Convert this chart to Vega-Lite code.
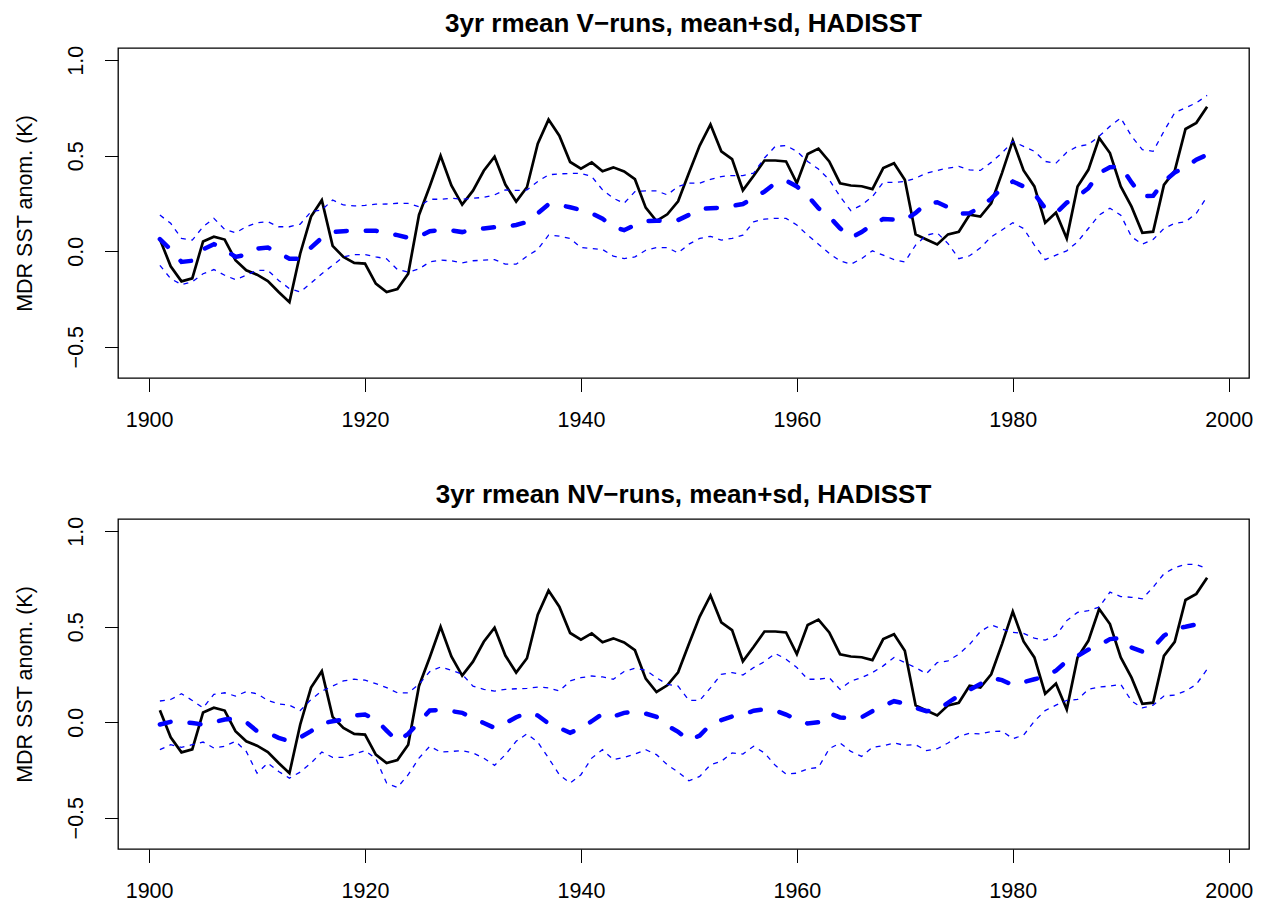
{
  "$schema": "https://vega.github.io/schema/vega-lite/v6.json",
  "background": "white",
  "padding": {"left": 13, "top": 10, "right": 5, "bottom": 0},
  "spacing": 49,
  "config": {
    "font": "Liberation Sans",
    "view": {"stroke": "black", "strokeWidth": 1.3},
    "axis": {
      "domain": false, "grid": false, "tickColor": "black", "tickWidth": 1, "tickSize": 13.5,
      "labelFont": "Liberation Sans", "labelFontSize": 21.5, "labelColor": "black",
      "titleFont": "Liberation Sans", "titleFontSize": 21.5, "titleFontWeight": "normal", "titleColor": "black"
    },
    "title": {"font": "Liberation Sans", "fontSize": 26, "fontWeight": "bold", "color": "black", "baseline": "alphabetic", "offset": 8, "anchor": "middle"}
  },
  "datasets": {
    "d": [
      {"year":1901,"obs":0.063,"vm":0.063,"vu":0.189,"vl":-0.074,"nm":-0.012,"nu":0.111,"nl":-0.144},
      {"year":1902,"obs":-0.079,"vm":0.009,"vu":0.146,"vl":-0.144,"nm":0.002,"nu":0.119,"nl":-0.118},
      {"year":1903,"obs":-0.158,"vm":-0.056,"vu":0.067,"vl":-0.175,"nm":0.0,"nu":0.149,"nl":-0.132},
      {"year":1904,"obs":-0.142,"vm":-0.05,"vu":0.058,"vl":-0.161,"nm":-0.004,"nu":0.114,"nl":-0.118},
      {"year":1905,"obs":0.051,"vm":0.01,"vu":0.128,"vl":-0.118,"nm":-0.012,"nu":0.075,"nl":-0.104},
      {"year":1906,"obs":0.076,"vm":0.037,"vu":0.172,"vl":-0.096,"nm":0.0,"nu":0.146,"nl":-0.135},
      {"year":1907,"obs":0.061,"vm":0.009,"vu":0.114,"vl":-0.126,"nm":0.014,"nu":0.154,"nl":-0.126},
      {"year":1908,"obs":-0.047,"vm":-0.03,"vu":0.096,"vl":-0.149,"nm":0.019,"nu":0.137,"nl":-0.1},
      {"year":1909,"obs":-0.1,"vm":-0.018,"vu":0.128,"vl":-0.126,"nm":0.0,"nu":0.16,"nl":-0.153},
      {"year":1910,"obs":-0.123,"vm":0.014,"vu":0.149,"vl":-0.1,"nm":-0.047,"nu":0.149,"nl":-0.267},
      {"year":1911,"obs":-0.156,"vm":0.019,"vu":0.154,"vl":-0.1,"nm":-0.056,"nu":0.114,"nl":-0.214},
      {"year":1912,"obs":-0.214,"vm":-0.009,"vu":0.128,"vl":-0.153,"nm":-0.082,"nu":0.096,"nl":-0.258},
      {"year":1913,"obs":-0.267,"vm":-0.039,"vu":0.128,"vl":-0.196,"nm":-0.1,"nu":0.089,"nl":-0.293},
      {"year":1914,"obs":-0.012,"vm":-0.04,"vu":0.142,"vl":-0.214,"nm":-0.08,"nu":0.061,"nl":-0.261},
      {"year":1915,"obs":0.181,"vm":0.019,"vu":0.207,"vl":-0.167,"nm":-0.047,"nu":0.119,"nl":-0.214},
      {"year":1916,"obs":0.267,"vm":0.07,"vu":0.216,"vl":-0.118,"nm":-0.007,"nu":0.163,"nl":-0.156},
      {"year":1917,"obs":0.028,"vm":0.1,"vu":0.268,"vl":-0.074,"nm":0.005,"nu":0.189,"nl":-0.184},
      {"year":1918,"obs":-0.03,"vm":0.105,"vu":0.242,"vl":-0.03,"nm":0.014,"nu":0.216,"nl":-0.184},
      {"year":1919,"obs":-0.061,"vm":0.107,"vu":0.237,"vl":-0.018,"nm":0.035,"nu":0.225,"nl":-0.167},
      {"year":1920,"obs":-0.065,"vm":0.107,"vu":0.24,"vl":-0.018,"nm":0.04,"nu":0.22,"nl":-0.149},
      {"year":1921,"obs":-0.17,"vm":0.107,"vu":0.246,"vl":-0.03,"nm":0.014,"nu":0.202,"nl":-0.19},
      {"year":1922,"obs":-0.214,"vm":0.096,"vu":0.247,"vl":-0.04,"nm":-0.044,"nu":0.181,"nl":-0.319},
      {"year":1923,"obs":-0.198,"vm":0.084,"vu":0.251,"vl":-0.096,"nm":-0.1,"nu":0.154,"nl":-0.342},
      {"year":1924,"obs":-0.118,"vm":0.07,"vu":0.25,"vl":-0.109,"nm":-0.061,"nu":0.154,"nl":-0.275},
      {"year":1925,"obs":0.19,"vm":0.076,"vu":0.233,"vl":-0.093,"nm":0.0,"nu":0.198,"nl":-0.188},
      {"year":1926,"obs":0.34,"vm":0.105,"vu":0.272,"vl":-0.056,"nm":0.061,"nu":0.265,"nl":-0.126},
      {"year":1927,"obs":0.5,"vm":0.11,"vu":0.272,"vl":-0.047,"nm":0.065,"nu":0.289,"nl":-0.156},
      {"year":1928,"obs":0.344,"vm":0.109,"vu":0.277,"vl":-0.05,"nm":0.058,"nu":0.272,"nl":-0.153},
      {"year":1929,"obs":0.244,"vm":0.1,"vu":0.272,"vl":-0.061,"nm":0.049,"nu":0.251,"nl":-0.149},
      {"year":1930,"obs":0.317,"vm":0.114,"vu":0.277,"vl":-0.05,"nm":0.02,"nu":0.189,"nl":-0.161},
      {"year":1931,"obs":0.421,"vm":0.119,"vu":0.282,"vl":-0.047,"nm":-0.004,"nu":0.172,"nl":-0.188},
      {"year":1932,"obs":0.495,"vm":0.126,"vu":0.295,"vl":-0.044,"nm":-0.03,"nu":0.163,"nl":-0.226},
      {"year":1933,"obs":0.349,"vm":0.13,"vu":0.321,"vl":-0.068,"nm":-0.005,"nu":0.172,"nl":-0.17},
      {"year":1934,"obs":0.26,"vm":0.137,"vu":0.318,"vl":-0.068,"nm":0.026,"nu":0.175,"nl":-0.1},
      {"year":1935,"obs":0.335,"vm":0.153,"vu":0.321,"vl":-0.026,"nm":0.049,"nu":0.177,"nl":-0.061},
      {"year":1936,"obs":0.563,"vm":0.198,"vu":0.365,"vl":0.009,"nm":0.035,"nu":0.184,"nl":-0.104},
      {"year":1937,"obs":0.689,"vm":0.246,"vu":0.4,"vl":0.084,"nm":-0.007,"nu":0.18,"nl":-0.188},
      {"year":1938,"obs":0.605,"vm":0.242,"vu":0.405,"vl":0.079,"nm":-0.03,"nu":0.163,"nl":-0.275},
      {"year":1939,"obs":0.467,"vm":0.23,"vu":0.407,"vl":0.067,"nm":-0.056,"nu":0.216,"nl":-0.319},
      {"year":1940,"obs":0.432,"vm":0.216,"vu":0.407,"vl":0.019,"nm":-0.03,"nu":0.233,"nl":-0.275},
      {"year":1941,"obs":0.465,"vm":0.198,"vu":0.391,"vl":0.014,"nm":0.005,"nu":0.242,"nl":-0.188},
      {"year":1942,"obs":0.419,"vm":0.17,"vu":0.321,"vl":0.009,"nm":0.044,"nu":0.237,"nl":-0.144},
      {"year":1943,"obs":0.439,"vm":0.128,"vu":0.277,"vl":-0.026,"nm":0.03,"nu":0.225,"nl":-0.196},
      {"year":1944,"obs":0.418,"vm":0.11,"vu":0.251,"vl":-0.039,"nm":0.049,"nu":0.265,"nl":-0.184},
      {"year":1945,"obs":0.377,"vm":0.137,"vu":0.312,"vl":-0.03,"nm":0.056,"nu":0.282,"nl":-0.167},
      {"year":1946,"obs":0.228,"vm":0.158,"vu":0.316,"vl":0.005,"nm":0.045,"nu":0.272,"nl":-0.144},
      {"year":1947,"obs":0.158,"vm":0.16,"vu":0.316,"vl":0.019,"nm":0.028,"nu":0.233,"nl":-0.17},
      {"year":1948,"obs":0.193,"vm":0.158,"vu":0.295,"vl":0.019,"nm":-0.018,"nu":0.198,"nl":-0.223},
      {"year":1949,"obs":0.261,"vm":0.163,"vu":0.339,"vl":-0.009,"nm":-0.05,"nu":0.189,"nl":-0.261},
      {"year":1950,"obs":0.409,"vm":0.19,"vu":0.356,"vl":0.037,"nm":-0.096,"nu":0.114,"nl":-0.307},
      {"year":1951,"obs":0.553,"vm":0.221,"vu":0.356,"vl":0.067,"nm":-0.07,"nu":0.114,"nl":-0.284},
      {"year":1952,"obs":0.664,"vm":0.225,"vu":0.376,"vl":0.078,"nm":-0.012,"nu":0.18,"nl":-0.223},
      {"year":1953,"obs":0.523,"vm":0.228,"vu":0.391,"vl":0.058,"nm":0.011,"nu":0.251,"nl":-0.205},
      {"year":1954,"obs":0.482,"vm":0.237,"vu":0.396,"vl":0.067,"nm":0.03,"nu":0.26,"nl":-0.161},
      {"year":1955,"obs":0.319,"vm":0.247,"vu":0.396,"vl":0.084,"nm":0.04,"nu":0.247,"nl":-0.167},
      {"year":1956,"obs":0.395,"vm":0.28,"vu":0.409,"vl":0.154,"nm":0.06,"nu":0.286,"nl":-0.126},
      {"year":1957,"obs":0.475,"vm":0.312,"vu":0.488,"vl":0.168,"nm":0.068,"nu":0.317,"nl":-0.161},
      {"year":1958,"obs":0.475,"vm":0.356,"vu":0.549,"vl":0.172,"nm":0.061,"nu":0.36,"nl":-0.226},
      {"year":1959,"obs":0.47,"vm":0.37,"vu":0.553,"vl":0.172,"nm":0.04,"nu":0.33,"nl":-0.272},
      {"year":1960,"obs":0.356,"vm":0.339,"vu":0.523,"vl":0.137,"nm":0.014,"nu":0.286,"nl":-0.267},
      {"year":1961,"obs":0.509,"vm":0.291,"vu":0.47,"vl":0.084,"nm":-0.007,"nu":0.225,"nl":-0.244},
      {"year":1962,"obs":0.537,"vm":0.225,"vu":0.43,"vl":0.037,"nm":0.0,"nu":0.225,"nl":-0.237},
      {"year":1963,"obs":0.47,"vm":0.181,"vu":0.374,"vl":-0.012,"nm":0.047,"nu":0.233,"nl":-0.139},
      {"year":1964,"obs":0.356,"vm":0.12,"vu":0.286,"vl":-0.051,"nm":0.025,"nu":0.172,"nl":-0.109},
      {"year":1965,"obs":0.344,"vm":0.07,"vu":0.212,"vl":-0.068,"nm":0.02,"nu":0.216,"nl":-0.153},
      {"year":1966,"obs":0.34,"vm":0.1,"vu":0.242,"vl":-0.039,"nm":0.026,"nu":0.233,"nl":-0.179},
      {"year":1967,"obs":0.325,"vm":0.14,"vu":0.286,"vl":0.002,"nm":0.058,"nu":0.26,"nl":-0.132},
      {"year":1968,"obs":0.435,"vm":0.168,"vu":0.36,"vl":-0.021,"nm":0.085,"nu":0.295,"nl":-0.123},
      {"year":1969,"obs":0.461,"vm":0.165,"vu":0.36,"vl":-0.044,"nm":0.11,"nu":0.339,"nl":-0.109},
      {"year":1970,"obs":0.374,"vm":0.163,"vu":0.365,"vl":-0.056,"nm":0.098,"nu":0.312,"nl":-0.121},
      {"year":1971,"obs":0.088,"vm":0.2,"vu":0.382,"vl":0.032,"nm":0.075,"nu":0.286,"nl":-0.118},
      {"year":1972,"obs":0.061,"vm":0.251,"vu":0.409,"vl":0.084,"nm":0.058,"nu":0.254,"nl":-0.149},
      {"year":1973,"obs":0.035,"vm":0.256,"vu":0.423,"vl":0.096,"nm":0.06,"nu":0.312,"nl":-0.139},
      {"year":1974,"obs":0.088,"vm":0.23,"vu":0.435,"vl":0.04,"nm":0.102,"nu":0.321,"nl":-0.109},
      {"year":1975,"obs":0.102,"vm":0.197,"vu":0.444,"vl":-0.039,"nm":0.14,"nu":0.356,"nl":-0.074},
      {"year":1976,"obs":0.191,"vm":0.199,"vu":0.426,"vl":-0.024,"nm":0.17,"nu":0.407,"nl":-0.058},
      {"year":1977,"obs":0.181,"vm":0.23,"vu":0.423,"vl":0.018,"nm":0.2,"nu":0.475,"nl":-0.061},
      {"year":1978,"obs":0.251,"vm":0.275,"vu":0.465,"vl":0.075,"nm":0.233,"nu":0.509,"nl":-0.049},
      {"year":1979,"obs":0.409,"vm":0.33,"vu":0.514,"vl":0.111,"nm":0.22,"nu":0.488,"nl":-0.047},
      {"year":1980,"obs":0.579,"vm":0.365,"vu":0.575,"vl":0.149,"nm":0.195,"nu":0.47,"nl":-0.086},
      {"year":1981,"obs":0.423,"vm":0.339,"vu":0.549,"vl":0.119,"nm":0.21,"nu":0.465,"nl":-0.068},
      {"year":1982,"obs":0.339,"vm":0.3,"vu":0.523,"vl":0.032,"nm":0.225,"nu":0.44,"nl":0.005},
      {"year":1983,"obs":0.149,"vm":0.225,"vu":0.47,"vl":-0.044,"nm":0.239,"nu":0.43,"nl":0.061},
      {"year":1984,"obs":0.202,"vm":0.2,"vu":0.461,"vl":-0.021,"nm":0.27,"nu":0.453,"nl":0.089},
      {"year":1985,"obs":0.067,"vm":0.254,"vu":0.518,"vl":0.002,"nm":0.32,"nu":0.532,"nl":0.114},
      {"year":1986,"obs":0.339,"vm":0.286,"vu":0.549,"vl":0.049,"nm":0.347,"nu":0.575,"nl":0.119},
      {"year":1987,"obs":0.426,"vm":0.33,"vu":0.558,"vl":0.119,"nm":0.38,"nu":0.584,"nl":0.172},
      {"year":1988,"obs":0.593,"vm":0.409,"vu":0.602,"vl":0.189,"nm":0.402,"nu":0.602,"nl":0.184},
      {"year":1989,"obs":0.514,"vm":0.44,"vu":0.654,"vl":0.225,"nm":0.435,"nu":0.681,"nl":0.189},
      {"year":1990,"obs":0.339,"vm":0.444,"vu":0.698,"vl":0.189,"nm":0.44,"nu":0.658,"nl":0.198},
      {"year":1991,"obs":0.233,"vm":0.36,"vu":0.602,"vl":0.075,"nm":0.391,"nu":0.654,"nl":0.111},
      {"year":1992,"obs":0.096,"vm":0.287,"vu":0.532,"vl":0.037,"nm":0.37,"nu":0.646,"nl":0.075},
      {"year":1993,"obs":0.102,"vm":0.29,"vu":0.523,"vl":0.061,"nm":0.391,"nu":0.707,"nl":0.089},
      {"year":1994,"obs":0.347,"vm":0.365,"vu":0.628,"vl":0.119,"nm":0.453,"nu":0.777,"nl":0.137},
      {"year":1995,"obs":0.421,"vm":0.412,"vu":0.725,"vl":0.146,"nm":0.49,"nu":0.809,"nl":0.142},
      {"year":1996,"obs":0.64,"vm":0.44,"vu":0.751,"vl":0.154,"nm":0.5,"nu":0.826,"nl":0.163},
      {"year":1997,"obs":0.672,"vm":0.479,"vu":0.777,"vl":0.198,"nm":0.512,"nu":0.826,"nl":0.198},
      {"year":1998,"obs":0.756,"vm":0.505,"vu":0.816,"vl":0.286,"nm":0.515,"nu":0.804,"nl":0.277}
    ]
  },
  "vconcat": [
    {
      "title": "3yr rmean V−runs, mean+sd, HADISST",
      "width": 1131, "height": 330,
      "data": {"name": "d"},
      "encoding": {
        "x": {"field": "year", "type": "quantitative", "scale": {"domain": [1897.12, 2001.88], "nice": false, "zero": false},
              "axis": {"values": [1900, 1920, 1940, 1960, 1980, 2000], "format": "d", "title": null, "labelPadding": 18, "labelBaseline": "top"}}
      },
      "layer": [
        {"mark": {"type": "line", "color": "black", "strokeWidth": 2.7},
         "encoding": {"y": {"field": "obs", "type": "quantitative", "scale": {"domain": [-0.664, 1.064], "nice": false, "zero": false},
           "axis": {"values": [-0.5, 0, 0.5, 1], "format": ".1f", "title": "MDR SST anom. (K)", "labelAngle": 270, "labelAlign": "center", "labelBaseline": "bottom", "labelPadding": 17, "titlePadding": 29}}}},
        {"mark": {"type": "line", "color": "#0000ff", "strokeWidth": 4.5, "strokeDash": [11, 19], "strokeCap": "round"},
         "encoding": {"y": {"field": "vm", "type": "quantitative", "title": "MDR SST anom. (K)"}}},
        {"mark": {"type": "line", "color": "#0000ff", "strokeWidth": 1.3, "strokeDash": [5, 5.5]},
         "encoding": {"y": {"field": "vu", "type": "quantitative", "title": "MDR SST anom. (K)"}}},
        {"mark": {"type": "line", "color": "#0000ff", "strokeWidth": 1.3, "strokeDash": [5, 5.5]},
         "encoding": {"y": {"field": "vl", "type": "quantitative", "title": "MDR SST anom. (K)"}}}
      ]
    },
    {
      "title": "3yr rmean NV−runs, mean+sd, HADISST",
      "width": 1131, "height": 330,
      "data": {"name": "d"},
      "encoding": {
        "x": {"field": "year", "type": "quantitative", "scale": {"domain": [1897.12, 2001.88], "nice": false, "zero": false},
              "axis": {"values": [1900, 1920, 1940, 1960, 1980, 2000], "format": "d", "title": null, "labelPadding": 18, "labelBaseline": "top"}}
      },
      "layer": [
        {"mark": {"type": "line", "color": "black", "strokeWidth": 2.7},
         "encoding": {"y": {"field": "obs", "type": "quantitative", "scale": {"domain": [-0.664, 1.064], "nice": false, "zero": false},
           "axis": {"values": [-0.5, 0, 0.5, 1], "format": ".1f", "title": "MDR SST anom. (K)", "labelAngle": 270, "labelAlign": "center", "labelBaseline": "bottom", "labelPadding": 17, "titlePadding": 29}}}},
        {"mark": {"type": "line", "color": "#0000ff", "strokeWidth": 4.5, "strokeDash": [11, 19], "strokeCap": "round"},
         "encoding": {"y": {"field": "nm", "type": "quantitative", "title": "MDR SST anom. (K)"}}},
        {"mark": {"type": "line", "color": "#0000ff", "strokeWidth": 1.3, "strokeDash": [5, 5.5]},
         "encoding": {"y": {"field": "nu", "type": "quantitative", "title": "MDR SST anom. (K)"}}},
        {"mark": {"type": "line", "color": "#0000ff", "strokeWidth": 1.3, "strokeDash": [5, 5.5]},
         "encoding": {"y": {"field": "nl", "type": "quantitative", "title": "MDR SST anom. (K)"}}}
      ]
    }
  ]
}
